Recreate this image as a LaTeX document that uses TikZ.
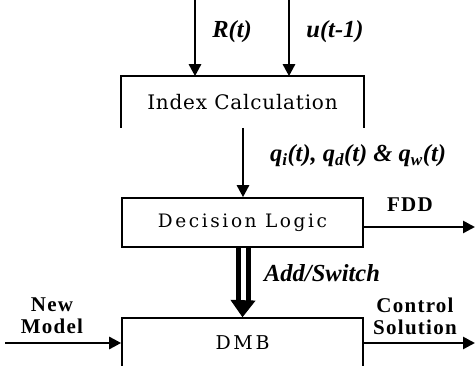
\documentclass[tikz,border=0pt]{standalone}
\usepackage{fontspec}
\setmainfont{Liberation Serif}
\newfontfamily\boxfont{DejaVu Serif}
\usetikzlibrary{arrows.meta}
\tikzset{
  blockbox/.style={minimum width=241pt, inner sep=0pt, line width=1.6pt},
  blocktext/.style 2 args={font=\boxfont\fontsize{#1}{#1}\selectfont\addfontfeature{LetterSpace=#2}},
  arr/.style={line width=2.6pt, -{Triangle[length=12pt,width=12pt]}},
  sig/.style={font=\bfseries\itshape\fontsize{24.5}{24}\selectfont, inner sep=0pt},
  port/.style={font=\bfseries\fontsize{21}{22}\selectfont\addfontfeature{LetterSpace=6}, align=center, inner sep=0pt}
}
\begin{document}
\begin{tikzpicture}[x=1pt, y=-1pt]
  \useasboundingbox (0,0) rectangle (475,366);

  % blocks
  \node[blockbox, minimum height=50pt, blocktext={20}{4}] (ic) at (242.5,102) {Index Calculation};
  \draw[line width=1.6pt] (ic.south west) -- (ic.north west) -- (ic.north east) -- (ic.south east);
  \node[blockbox, draw, minimum height=49pt, blocktext={18.5}{14}] (dl) at (242.5,222.5) {Decision Logic};
  \node[blockbox, draw, minimum height=50pt, blocktext={19}{14}] (dmb) at (242.5,343) {DMB};

  % inputs to the index calculation
  \coordinate (rin) at (195,0);
  \coordinate (uin) at (289,0);
  \draw[arr] (rin) -- (rin |- ic.north);
  \draw[arr] (uin) -- (uin |- ic.north);
  \node[sig] (rlab) at (232,32) {R(t)};
  \node[sig] (ulab) at (335,32) {u(t-1)};

  % indices to the decision logic
  \coordinate (icout) at (243,128);
  \draw[arr] (icout) -- (icout |- dl.north);
  \node[sig] (qlab) at (358,156) {q\textsubscript{i}(t), q\textsubscript{d}(t) \& q\textsubscript{w}(t)};

  % fault detection output
  \coordinate (fddend) at (475,227);
  \draw[arr] (dl.east |- fddend) -- (fddend);
  \node[port] (fdd) at (410,205) {FDD};

  % add/switch command (double line)
  \coordinate (dtip) at (243,301);
  \draw[line width=5pt, double=white, double distance=5pt] (dl.south -| dtip) -- (dtip);
  \draw[line width=1pt, -{Triangle[length=17pt,width=25pt]}] (243,300) -- (dmb.north);
  \node[sig] (aslab) at (322,273) {Add/Switch};

  % new model in, control solution out
  \coordinate (nmin) at (5,343);
  \coordinate (csout) at (475,343);
  \draw[arr] (nmin) -- (dmb.west);
  \draw[arr] (dmb.east) -- (csout);
  \node[port] (nm) at (52,316) {New\\Model};
  \node[port] (cs) at (415,316) {Control\\Solution};
\end{tikzpicture}
\end{document}
